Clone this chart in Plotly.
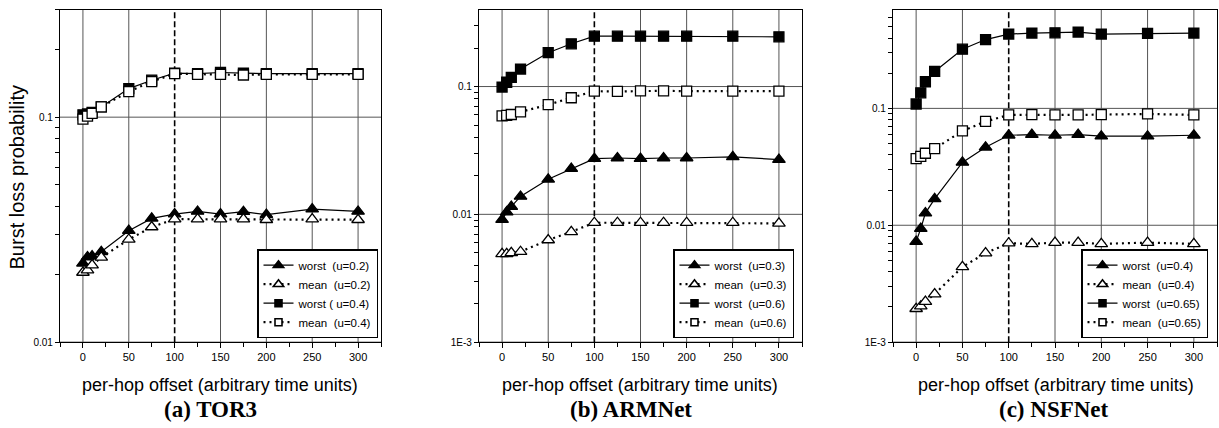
import plotly.graph_objects as go

# Per-hop offset values (arbitrary time units)
OFFSETS = [0, 5, 10, 20, 50, 75, 100, 125, 150, 175, 200, 250, 300]

# (a) TOR3
tor3_worst_02 = [0.0224, 0.0239, 0.0241, 0.0252, 0.0313, 0.0355, 0.0371, 0.0381, 0.0371, 0.0380, 0.0369, 0.0390, 0.0381]
tor3_mean_02 = [0.0204, 0.0209, 0.0220, 0.0238, 0.0286, 0.0325, 0.0352, 0.0352, 0.0352, 0.0352, 0.0350, 0.0352, 0.0350]
tor3_worst_04 = [0.1024, 0.1034, 0.105, 0.111, 0.134, 0.146, 0.157, 0.156, 0.158, 0.157, 0.156, 0.156, 0.156]
tor3_mean_04 = [0.098, 0.101, 0.104, 0.111, 0.130, 0.144, 0.156, 0.155, 0.155, 0.154, 0.155, 0.155, 0.155]

# (b) ARMNet
arm_worst_03 = [0.0091, 0.0104, 0.0115, 0.0138, 0.0188, 0.0228, 0.0273, 0.0276, 0.0273, 0.0276, 0.0276, 0.0282, 0.0268]
arm_mean_03 = [0.0049, 0.0049, 0.0050, 0.0051, 0.0063, 0.0073, 0.0086, 0.0086, 0.0086, 0.0086, 0.0086, 0.0086, 0.0085]
arm_worst_06 = [0.099, 0.108, 0.118, 0.137, 0.184, 0.216, 0.248, 0.248, 0.248, 0.248, 0.248, 0.248, 0.245]
arm_mean_06 = [0.059, 0.0595, 0.0604, 0.0634, 0.0721, 0.0817, 0.092, 0.0915, 0.0926, 0.0926, 0.092, 0.092, 0.092]

# (c) NSFNet
nsf_worst_04 = [0.00724, 0.00937, 0.0127, 0.0168, 0.0345, 0.0465, 0.0589, 0.0597, 0.0589, 0.0597, 0.0578, 0.0578, 0.0589]
nsf_mean_04 = [0.00193, 0.00203, 0.00222, 0.00258, 0.0044, 0.00578, 0.00702, 0.00693, 0.0071, 0.0071, 0.00693, 0.0071, 0.00693]
nsf_worst_065 = [0.109, 0.136, 0.169, 0.207, 0.321, 0.388, 0.432, 0.441, 0.443, 0.450, 0.432, 0.438, 0.441]
nsf_mean_065 = [0.0371, 0.0388, 0.0413, 0.0452, 0.0641, 0.0773, 0.0879, 0.0885, 0.0879, 0.0879, 0.0885, 0.0896, 0.0879]

PANEL_TITLES = ["(a) TOR3", "(b) ARMNet", "(c) NSFNet"]
X_TITLE = "per-hop offset (arbitrary time units)"
Y_TITLE = "Burst loss probability"
X_TICKS = [0, 50, 100, 150, 200, 250, 300]
REFERENCE_OFFSET = 100

NB = "\u00a0"


def log_ticks(decades, top):
    """Tick values and labels for a log axis: labels on decades, blanks between."""
    vals, text = [], []
    for d in decades:
        for m in range(1, 10):
            v = round(m * d, 6)
            if v > top * 1.0001:
                break
            vals.append(v)
            if m == 1:
                text.append("1E-3" if d == 0.001 else f"{d:g}")
            else:
                text.append("")
    return vals, text


panels = [
    dict(
        series=[
            (tor3_worst_02, f"worst{NB}{NB}(u=0.2)", "triangle", "solid"),
            (tor3_mean_02, f"mean{NB}{NB}(u=0.2)", "triangle", "dot"),
            (tor3_worst_04, f"worst{NB}({NB}u=0.4)", "square", "solid"),
            (tor3_mean_04, f"mean{NB}{NB}(u=0.4)", "square", "dot"),
        ],
        ylog=[-2, -0.523], decades=[0.01, 0.1], top=0.3,
        px=(60, 381), title_x=210, xtitle_x=220, legend_right=378,
    ),
    dict(
        series=[
            (arm_worst_03, f"worst{NB}{NB}(u=0.3)", "triangle", "solid"),
            (arm_mean_03, f"mean{NB}{NB}(u=0.3)", "triangle", "dot"),
            (arm_worst_06, f"worst{NB}{NB}(u=0.6)", "square", "solid"),
            (arm_mean_06, f"mean{NB}{NB}(u=0.6)", "square", "dot"),
        ],
        ylog=[-3, -0.4], decades=[0.001, 0.01, 0.1], top=0.4,
        px=(479, 802), title_x=631, xtitle_x=640, legend_right=794,
    ),
    dict(
        series=[
            (nsf_worst_04, f"worst{NB}{NB}(u=0.4)", "triangle", "solid"),
            (nsf_mean_04, f"mean{NB}{NB}(u=0.4)", "triangle", "dot"),
            (nsf_worst_065, f"worst{NB}{NB}(u=0.65)", "square", "solid"),
            (nsf_mean_065, f"mean{NB}{NB}(u=0.65)", "square", "dot"),
        ],
        ylog=[-3, -0.157], decades=[0.001, 0.01, 0.1], top=0.7,
        px=(893, 1217), title_x=1054, xtitle_x=1056, legend_right=1208,
    ),
]

W, H = 1219, 428
PLOT_TOP, PLOT_BOTTOM = 10, 347
SANS = "Liberation Sans, Arial, sans-serif"
SERIF = "Liberation Serif, Times New Roman, serif"
GRID = "#555555"

fig = go.Figure()
layout = dict(
    width=W, height=H,
    margin=dict(l=0, r=0, t=0, b=0),
    paper_bgcolor="white", plot_bgcolor="white",
    font=dict(family=SANS, color="black"),
    annotations=[], shapes=[],
)

for i, p in enumerate(panels):
    k = "" if i == 0 else str(i + 1)
    xa, ya = "x" + k, "y" + k
    legend_name = "legend" + k

    for values, name, sym, dash in p["series"]:
        filled = dash == "solid"
        symbol = "triangle-up" if sym == "triangle" else "square"
        line = dict(color="black", width=1.2 if filled else 2.2,
                    dash="solid" if filled else "2px,4px")
        fill = "black" if filled else "white"
        # the data curve
        fig.add_trace(go.Scatter(
            x=OFFSETS, y=values, name=name, mode="lines+markers",
            xaxis=xa, yaxis=ya, showlegend=False,
            line=line,
            marker=dict(symbol=symbol, size=10 if sym == "square" else 11,
                        color=fill, line=dict(color="black", width=1.3)),
        ))
        # legend entry with a smaller symbol
        fig.add_trace(go.Scatter(
            x=[None], y=[None], name=name, mode="lines+markers",
            xaxis=xa, yaxis=ya, legend=legend_name, showlegend=True,
            line=line,
            marker=dict(symbol=symbol, size=7 if sym == "square" else 9,
                        color=fill, line=dict(color="black", width=1.6)),
        ))

    x0, x1 = p["px"]
    yvals, ytext = log_ticks(p["decades"], p["top"])
    layout["xaxis" + k] = dict(
        domain=[x0 / W, x1 / W], anchor=ya, range=[-25, 325],
        tickmode="array", tickvals=X_TICKS, ticks="outside", ticklen=5,
        tickcolor="black", tickfont=dict(size=11, family=SANS),
        showline=True, linecolor="black", linewidth=1.2, mirror=True,
        showgrid=False, zeroline=False,
        minor=dict(tickmode="linear", tick0=-25, dtick=25, ticks="outside",
                   ticklen=4, tickcolor="black", showgrid=False),
    )
    layout["yaxis" + k] = dict(
        domain=[(H - PLOT_BOTTOM) / H, (H - PLOT_TOP) / H], anchor=xa,
        type="log", range=p["ylog"],
        tickmode="array", tickvals=yvals, ticktext=ytext,
        ticks="outside", ticklen=4, tickcolor="black",
        tickfont=dict(size=10, family=SANS),
        showline=True, linecolor="black", linewidth=1.2, mirror=True,
        showgrid=False, zeroline=False,
    )
    layout[legend_name] = dict(
        x=p["legend_right"] / W, xanchor="right",
        y=(H - 343) / H, yanchor="bottom",
        bgcolor="white", bordercolor="black", borderwidth=1.5,
        font=dict(size=11.5, family=SANS, color="black"),
        tracegroupgap=0, itemwidth=30,
    )

    # vertical grid lines on the labelled offsets (the 100 mark is dashed)
    for xv in X_TICKS:
        if xv == REFERENCE_OFFSET:
            continue
        layout["shapes"].append(dict(
            type="line", xref=xa, yref=ya + " domain",
            x0=xv, x1=xv, y0=0, y1=1,
            line=dict(color=GRID, width=1), layer="below",
        ))
    # horizontal grid lines on each decade
    for d in p["decades"]:
        layout["shapes"].append(dict(
            type="line", xref=xa + " domain", yref=ya,
            x0=0, x1=1, y0=d, y1=d,
            line=dict(color=GRID, width=1), layer="below",
        ))
    # dashed reference line at the 100-unit offset
    layout["shapes"].append(dict(
        type="line", xref=xa, yref=ya + " domain",
        x0=REFERENCE_OFFSET, x1=REFERENCE_OFFSET, y0=0, y1=1,
        line=dict(color="black", width=1.6, dash="6px,3px"), layer="below",
    ))

    layout["annotations"].append(dict(
        text=X_TITLE, xref="paper", yref="paper",
        x=p["xtitle_x"] / W, y=(H - 390) / H, xanchor="center", yanchor="middle",
        showarrow=False, font=dict(size=18, family=SANS, color="black"),
    ))
    layout["annotations"].append(dict(
        text="<b>" + PANEL_TITLES[i] + "</b>", xref="paper", yref="paper",
        x=p["title_x"] / W, y=(H - 415) / H, xanchor="center", yanchor="middle",
        showarrow=False, font=dict(size=23, family=SERIF, color="black"),
    ))

layout["annotations"].append(dict(
    text=Y_TITLE, xref="paper", yref="paper", textangle=-90,
    x=17 / W, y=(H - 180) / H, xanchor="center", yanchor="middle",
    showarrow=False, font=dict(size=20, family=SANS, color="black"),
))

fig.update_layout(**layout)
fig.write_html("out.html")
